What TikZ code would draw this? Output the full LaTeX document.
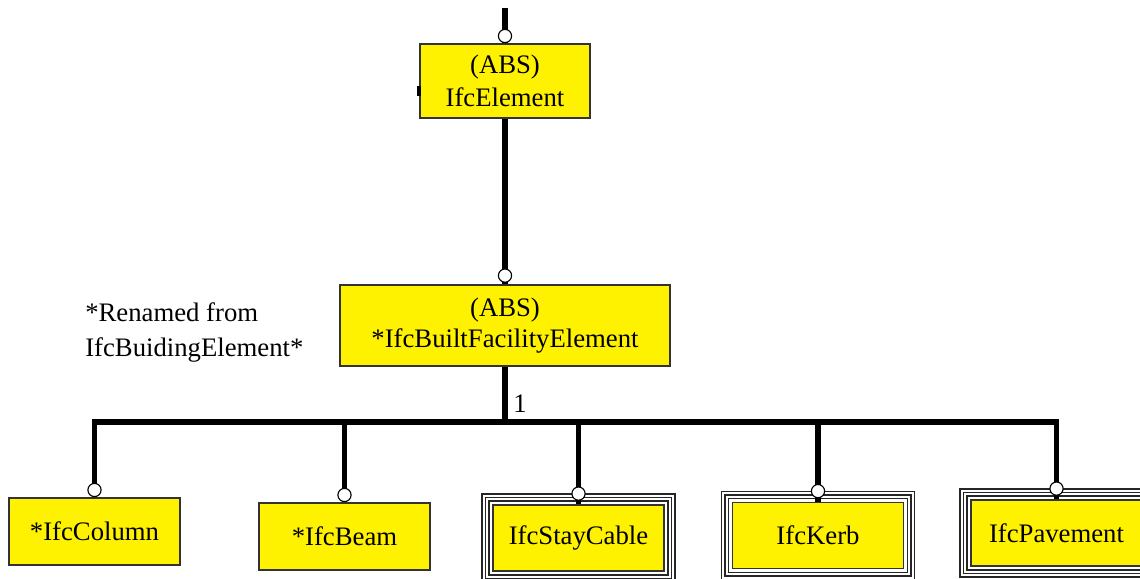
\documentclass[tikz,border=0pt]{standalone}
\usepackage{fontspec}
\setmainfont{Liberation Serif}
\usetikzlibrary{positioning}
\begin{document}
\begin{tikzpicture}[x=0.025cm, y=-0.025cm,
  every node/.style={font=\fontsize{19}{22}\selectfont},
  cls/.style={rectangle, draw=black!80, line width=1.2pt, fill=yellow, align=center, inner sep=0pt},
  conn/.style={line width=3.8pt},
  hole/.style={circle, draw, fill=white, line width=0.8pt, minimum size=0.33cm, inner sep=0pt},
  frameline/.style={draw=black!85, line width=1.1pt}]

\useasboundingbox (0,0) rectangle (1140,579);

% supertypes
\node (elem) [cls, minimum width=4.25cm, minimum height=1.85cm, font=\fontsize{19}{23.5}\selectfont] at (505,81) {(ABS)\\IfcElement};
\fill (417,86) rectangle (421,96);
\node (built) [cls, minimum width=8.25cm, minimum height=2.025cm] at (505,325.5) {(ABS)\\*IfcBuiltFacilityElement};
\node (note) [align=left, anchor=north west, inner sep=0pt, font=\fontsize{19}{25.5}\selectfont] at (85,302) {*Renamed from\\IfcBuidingElement*};

\coordinate (top) at (505,8);
\draw [conn] (top) -- (elem.north);
\node (elemhole) [hole, above=0pt of elem] {};
\draw [conn] (elem.south) -- (built.north);
\node (builthole) [hole, above=1pt of built] {};

% subtypes
\node (col)  [cls, minimum width=4.275cm, minimum height=1.675cm] at (94.5,531.5) {*IfcColumn};
\node (beam) [cls, minimum width=4.275cm, minimum height=1.675cm] at (344.5,536.5) {*IfcBeam};
\node (stay) [cls, minimum width=4.275cm, minimum height=1.65cm] at (578.5,538) {IfcStayCable};
\node (kerb) [cls, minimum width=4.275cm, minimum height=1.65cm] at (818,535.5) {IfcKerb};
\node (pav)  [cls, minimum width=4.275cm, minimum height=1.65cm] at (1056.5,533) {IfcPavement};

\foreach \n in {stay,kerb,pav}
  \foreach \d in {3.3,6.6,10}
    \draw [frameline] ([shift={(-\d,-\d)}]\n.north west) rectangle ([shift={(\d,\d)}]\n.south east);

% tree
\coordinate (bus) at (505,422);
\draw [conn] (built.south) -- (bus);
\node (mult) at (520,404) {1};
\draw [conn] (col.north) -- (col.north |- bus) -- (pav.north |- bus) -- (pav.north);
\foreach \n in {beam,stay,kerb}
  \draw [conn] (\n.north |- bus) -- (\n.north);

\node (colhole)  [hole, above=0pt of col] {};
\node (beamhole) [hole, above=0pt of beam] {};
\node (stayhole) [hole, above=2.4pt of stay] {};
\node (kerbhole) [hole, above=2.4pt of kerb] {};
\node (pavhole)  [hole, above=2.4pt of pav] {};

\end{tikzpicture}
\end{document}
